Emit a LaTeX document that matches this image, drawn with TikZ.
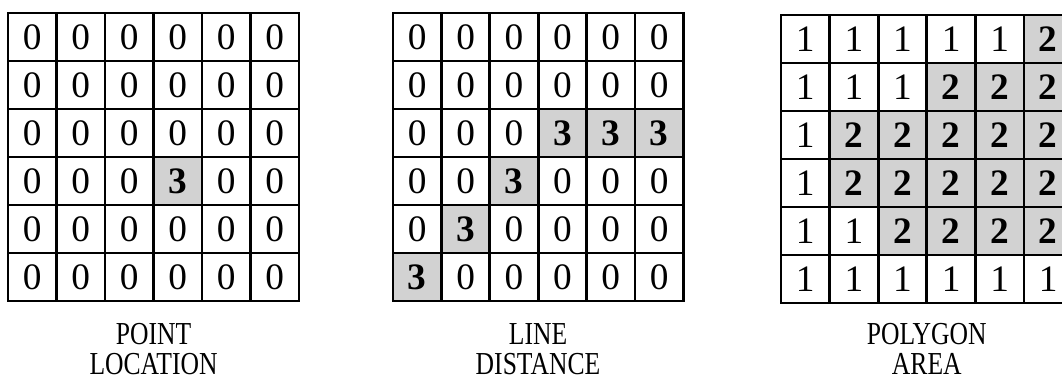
\documentclass[tikz,border=0pt]{standalone}
\usepackage{fontspec}
\setmainfont{Liberation Serif}
\newfontfamily\capfont[FakeStretch=0.8]{Liberation Serif}
\usetikzlibrary{positioning}

\tikzset{
  cell/.style={draw, line width=2.1pt, minimum width=36.4pt, minimum height=36pt,
    inner sep=0pt, font=\fontsize{28}{28}\selectfont},
  hit/.style={cell, fill=gray!35, font=\fontsize{28}{28}\selectfont\bfseries},
  caption/.style={align=center, inner sep=0pt, font=\capfont\fontsize{24}{22.5}\selectfont}
}

\begin{document}
\begin{tikzpicture}[x=0.75pt, y=-0.75pt]
    \clip (0,0) rectangle (1062,381);
    \fill[white] (0,0) rectangle (1062,381);

    % Point grid
    \foreach \r in {1,...,6} {
        \foreach \c in {1,...,6} {
            \node[cell] (pt-\r-\c) at ({8+48.5*(\c-0.5)}, {13+48*(\r-0.5)}) {0};
        }
    }
    \node[hit] (pt-4-4) at ({8+48.5*3.5}, {13+48*3.5}) {3};

    % Line grid
    \foreach \r in {1,...,6} {
        \foreach \c in {1,...,6} {
            \node[cell] (ln-\r-\c) at ({393+48.4*(\c-0.5)}, {13+48*(\r-0.5)}) {0};
        }
    }
    \foreach \r/\c in {3/4, 3/5, 3/6, 4/3, 5/2, 6/1} {
        \node[hit] (ln-\r-\c) at ({393+48.4*(\c-0.5)}, {13+48*(\r-0.5)}) {3};
    }

    % Polygon grid
    \foreach \r in {1,...,6} {
        \foreach \c in {1,...,6} {
            \node[cell] (pg-\r-\c) at ({781+48.6*(\c-0.5)}, {15+48*(\r-0.5)}) {1};
        }
    }
    \foreach \r/\c in {1/6, 2/4, 2/5, 2/6, 3/2, 3/3, 3/4, 3/5, 3/6,
                       4/2, 4/3, 4/4, 4/5, 4/6, 5/3, 5/4, 5/5, 5/6} {
        \node[hit] (pg-\r-\c) at ({781+48.6*(\c-0.5)}, {15+48*(\r-0.5)}) {2};
    }

    % Captions
    \node[caption, anchor=north] (cap-pt) at (153.5, 323) {POINT\\LOCATION};
    \node[caption, anchor=north] (cap-ln) at (538, 323) {LINE\\DISTANCE};
    \node[caption, anchor=north] (cap-pg) at (926.8, 323) {POLYGON\\AREA};
\end{tikzpicture}
\end{document}
